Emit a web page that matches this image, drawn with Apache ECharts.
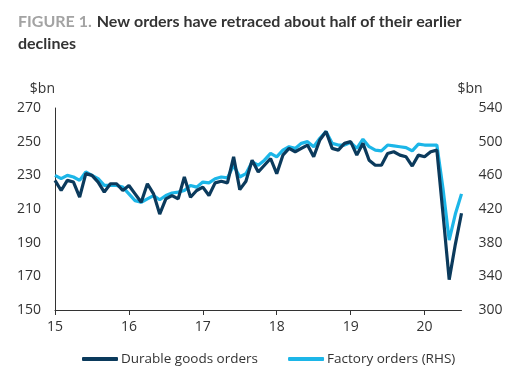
<!DOCTYPE html>
<html><head><meta charset="utf-8">
<script src="https://cdn.jsdelivr.net/npm/echarts@6/dist/echarts.min.js"></script>
<style>html,body{margin:0;padding:0;background:#fff}#c{width:526px;height:380px}</style>
</head><body><div id="c"></div>
<script>
// Monthly, Dec 2014 .. Jun 2020
const months = [];
for (let y = 2014; y <= 2020; y++) for (let m = 1; m <= 12; m++) {
  if ((y === 2014 && m < 12) || (y === 2020 && m > 6)) continue;
  months.push(y + '-' + String(m).padStart(2, '0'));
}
const yearTicks = ['15', '16', '17', '18', '19', '20'];
const durableGoods = [
  227, 221, 227, 226, 217, 231, 230, 226, 220, 225, 225, 221,
  224, 219, 214, 225, 219, 207, 216, 218, 216, 229, 217, 221,
  223, 218, 225.5, 226.5, 225.5, 241, 221.5, 226.5, 239, 232, 236, 240,
  231, 242, 246, 244, 246, 248, 241, 251, 256, 246, 245, 249,
  250, 242, 249, 239, 236, 236, 243, 244, 242, 241, 235.5, 242,
  241, 244, 245, 207, 168, 189, 207.5
];
const factoryOrders = [
  460, 456, 460, 458, 454, 464, 460, 456, 448, 448, 448, 446,
  438, 430, 428, 432, 436, 431, 436, 439, 440, 442, 448, 446,
  452, 451, 456, 458, 457, 472, 458, 462, 476, 472, 478, 486,
  482, 490, 494, 492, 498, 500, 494, 504, 512, 498, 496, 496,
  499, 492, 503, 494, 490, 489, 496, 495, 494, 493, 489, 497,
  496, 496, 496, 444, 383, 414, 438
];
const seriesNames = ['Durable goods orders', 'Factory orders (RHS)'];
const colors = ['#0b3a5c', '#1cb6e8'];

const chart = echarts.init(document.getElementById('c'));
const font = '"Open Sans", "Noto Sans", sans-serif';
chart.setOption({
  animation: false,
  title: {
    left: 13, top: 6,
    text: '{g|FIGURE 1.} {d|New orders have retraced about half of their earlier}\n{d|declines}',
    textStyle: {
      rich: {
        g: { color: '#a3a3a3', fontWeight: 'bold', fontSize: 16, fontFamily: 'Lato, sans-serif', lineHeight: 22 },
        d: { color: '#333333', fontWeight: 'bold', fontSize: 16, fontFamily: 'Lato, sans-serif', lineHeight: 22 }
      }
    }
  },
  grid: { left: 55, right: 64.5, top: 108, bottom: 70, containLabel: false },
  legend: {
    left: 77, top: 347,
    itemWidth: 36, itemHeight: 4, itemGap: 30,
    icon: 'roundRect',
    textStyle: { color: '#333', fontSize: 13.5, fontFamily: font, padding: [0, 0, 0, -2] },
    data: seriesNames
  },
  xAxis: {
    type: 'category', data: months, boundaryGap: false,
    axisLine: { lineStyle: { color: '#333', width: 1 } },
    axisTick: { show: true, length: 5, interval: 11, lineStyle: { color: '#333' } },
    axisLabel: {
      interval: 11, color: '#333', fontSize: 14, fontFamily: font, margin: 10,
      formatter: (v, i) => yearTicks[Math.round(i / 12)]
    },
    splitLine: { show: false }
  },
  yAxis: [
    {
      type: 'value', min: 150, max: 270, interval: 20,
      name: '$bn', nameLocation: 'end', nameGap: 19,
      nameTextStyle: { color: '#333', fontSize: 14, fontFamily: font, align: 'right', verticalAlign: 'middle' },
      axisLine: { show: true, lineStyle: { color: '#333', width: 1 } },
      axisTick: { show: false },
      axisLabel: { color: '#333', fontSize: 14, fontFamily: font, margin: 14 },
      splitLine: { show: false }
    },
    {
      type: 'value', min: 300, max: 540, interval: 40, position: 'right',
      name: '$bn', nameLocation: 'end', nameGap: 19,
      nameTextStyle: { color: '#333', fontSize: 14, fontFamily: font, align: 'left', verticalAlign: 'middle', padding: [0, 0, 0, -4] },
      axisLine: { show: false },
      axisTick: { show: false },
      axisLabel: { color: '#333', fontSize: 14, fontFamily: font, margin: 17 },
      splitLine: { show: false }
    }
  ],
  series: [
    {
      name: seriesNames[1], type: 'line', yAxisIndex: 1, data: factoryOrders,
      showSymbol: false, symbol: 'none',
      lineStyle: { color: colors[1], width: 3.2 }, itemStyle: { color: colors[1] }, z: 2
    },
    {
      name: seriesNames[0], type: 'line', yAxisIndex: 0, data: durableGoods,
      showSymbol: false, symbol: 'none',
      lineStyle: { color: colors[0], width: 3.2 }, itemStyle: { color: colors[0] }, z: 3
    }
  ]
});
</script></body></html>
